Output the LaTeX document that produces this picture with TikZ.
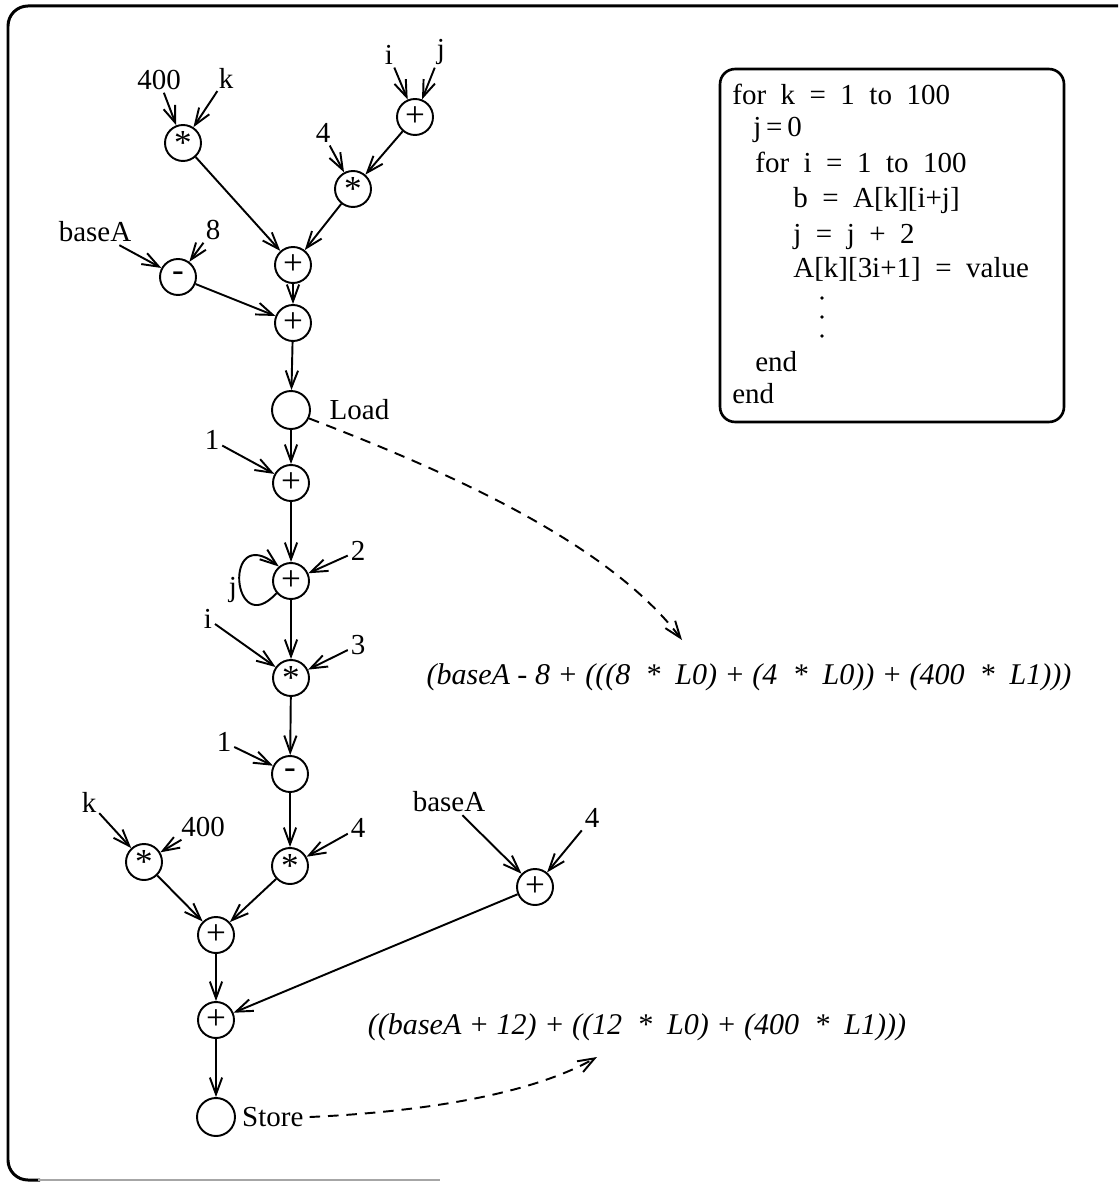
\documentclass[tikz,border=0pt]{standalone}
\usepackage{fontspec}
\setmainfont{Liberation Serif}
\usetikzlibrary{arrows.meta,positioning}

\newcommand{\opast}{\raisebox{-0.45ex}{*}}
\newcommand{\opsub}{\raisebox{-0.25ex}{-}}

\begin{document}
\begin{tikzpicture}[x=0.02cm, y=-0.02cm, font=\fontsize{16.5}{20}\selectfont]
        \tikzstyle{op} = [circle, draw, line width=1.1pt, minimum size=0.72cm, inner sep=0pt, font=\fontsize{20}{22}\selectfont]
        \tikzstyle{mem} = [circle, draw, line width=1.1pt, minimum size=0.76cm, inner sep=0pt]
        \tikzstyle{leaf} = [inner sep=1.5pt]
        \tikzstyle{line} = [draw, line width=1.1pt, -{Straight Barb[length=9.5pt,width=7pt]}]
        \tikzstyle{ref} = [line, dash pattern=on 6pt off 4.5pt]
        \tikzstyle{expr} = [font=\fontsize{17.1}{20}\selectfont\itshape]
        \tikzstyle{code} = [anchor=base west, inner sep=0pt]

        \useasboundingbox (0,0) rectangle (1118,1185);
        \clip (0,0) rectangle (1118,1185);

        % outer frame (right side is cut off)
        \draw [line width=1.7pt, rounded corners=0.4cm] (1140,6) -- (8,6) -- (8,1180) -- (40,1180);
        \draw [line width=1.2pt, black!35] (38,1180) -- (440,1180);

        % address of A[k][i+j]
        \node [leaf] (l400) at (159,80) {400};
        \node [leaf] (lk) at (226,78) {k};
        \node [leaf] (li) at (389,55) {i};
        \node [leaf] (lj) at (441,52) {j};
        \node [leaf] (l4) at (323,133) {4};
        \node [leaf] (lbaseA) at (95,232) {baseA};
        \node [leaf] (l8) at (213,230) {8};

        \node [op] (mul1) at (183,143) {\opast};
        \node [op] (plusij) at (415,117) {+};
        \node [op] (mul2) at (353,189) {\opast};
        \node [op] (minus1) at (178,277) {\opsub};
        \node [op] (plusA) at (293,265) {+};
        \node [op] (plusB) at (293,323) {+};
        \node [mem] (load) at (291,410) {};
        \node [right=0.25cm of load] (loadlbl) {Load};

        \path [line] (l400) -- (mul1);
        \path [line] (lk) -- (mul1);
        \path [line] (li) -- (plusij);
        \path [line] (lj) -- (plusij);
        \path [line] (l4) -- (mul2);
        \path [line] (plusij) -- (mul2);
        \path [line] (mul1) -- (plusA);
        \path [line] (mul2) -- (plusA);
        \path [line] (lbaseA) -- (minus1);
        \path [line] (l8) -- (minus1);
        \path [line] (plusA) -- (plusB);
        \path [line] (minus1) -- (plusB);
        \path [line] (plusB) -- (load);

        % address of A[k][3i+1]
        \node [leaf] (l1) at (212,440) {1};
        \node [leaf] (l2) at (358,551) {2};
        \node [leaf] (ljloop) at (233,590) {j};
        \node [leaf] (li2) at (208,619) {i};
        \node [leaf] (l3) at (358,645) {3};
        \node [leaf] (l1b) at (224,742) {1};
        \node [leaf] (lk2) at (89,802) {k};
        \node [leaf] (l400b) at (203,827) {400};
        \node [leaf] (l4b) at (358,828) {4};
        \node [leaf] (lbaseA2) at (449,802) {baseA};
        \node [leaf] (l4c) at (592,818) {4};

        \node [op] (plus1) at (291,483) {+};
        \node [op] (plus2) at (291,581) {+};
        \node [op] (mul3) at (291,678) {\opast};
        \node [op] (minus2) at (290,774) {\opsub};
        \node [op] (mul4) at (144,862) {\opast};
        \node [op] (mul5) at (290,866) {\opast};
        \node [op] (plusC) at (535,887) {+};
        \node [op] (plusD) at (216,935) {+};
        \node [op] (plusE) at (216,1020) {+};
        \node [mem] (store) at (216,1117) {};
        \node [right=0pt of store] (storelbl) {Store};

        \path [line] (load) -- (plus1);
        \path [line] (l1) -- (plus1);
        \path [line] (plus1) -- (plus2);
        \path [line] (l2) -- (plus2);
        \path [line] (plus2.-140) .. controls (232,642) and (222,522) .. (plus2.130);
        \path [line] (plus2) -- (mul3);
        \path [line] (li2) -- (mul3);
        \path [line] (l3) -- (mul3);
        \path [line] (mul3) -- (minus2);
        \path [line] (l1b) -- (minus2);
        \path [line] (minus2) -- (mul5);
        \path [line] (l4b) -- (mul5);
        \path [line] (lk2) -- (mul4);
        \path [line] (l400b) -- (mul4);
        \path [line] (mul4) -- (plusD);
        \path [line] (mul5) -- (plusD);
        \path [line] (lbaseA2) -- (plusC);
        \path [line] (l4c) -- (plusC);
        \path [line] (plusD) -- (plusE);
        \path [line] (plusC) -- (plusE);
        \path [line] (plusE) -- (store);

        % recovered address expressions
        \node [expr] (expr1) at (749,677) {(baseA - 8 + (((8~~*~~L0) + (4~~*~~L0)) + (400~~*~~L1)))};
        \node [expr] (expr2) at (637,1027) {((baseA + 12) + ((12~~*~~L0) + (400~~*~~L1)))};
        \coordinate (loadtip) at (682,640);
        \coordinate (storetip) at (597,1057);
        \path [ref] (load.-25) .. controls (430,465) and (605,538) .. (loadtip);
        \path [ref] (storelbl.east) .. controls (420,1112) and (530,1095) .. (storetip);

        % source loop
        \node [draw, line width=1.5pt, rounded corners=0.3cm, minimum width=6.88cm, minimum height=7.06cm] (codebox) at (892,245.5) {};
        \node [code] (c1) at (732,105) {for~~k~~=~~1~~to~~100};
        \node [code] (c2) at (753,137) {j\,=\,0};
        \node [code] (c3) at (755,173) {for~~i~~=~~1~~to~~100};
        \node [code] (c4) at (793,208) {b~~=~~A[k][i+j]};
        \node [code] (c5) at (793,244) {j~~=~~j~~+~~2};
        \node [code] (c6) at (793,278) {A[k][3i+1]~~=~~value};
        \foreach \y in {298,317,336}
            \fill (822,\y) circle (1.8);
        \node [code] (c7) at (755,372) {end};
        \node [code] (c8) at (732,403) {end};
    \end{tikzpicture}
\end{document}
